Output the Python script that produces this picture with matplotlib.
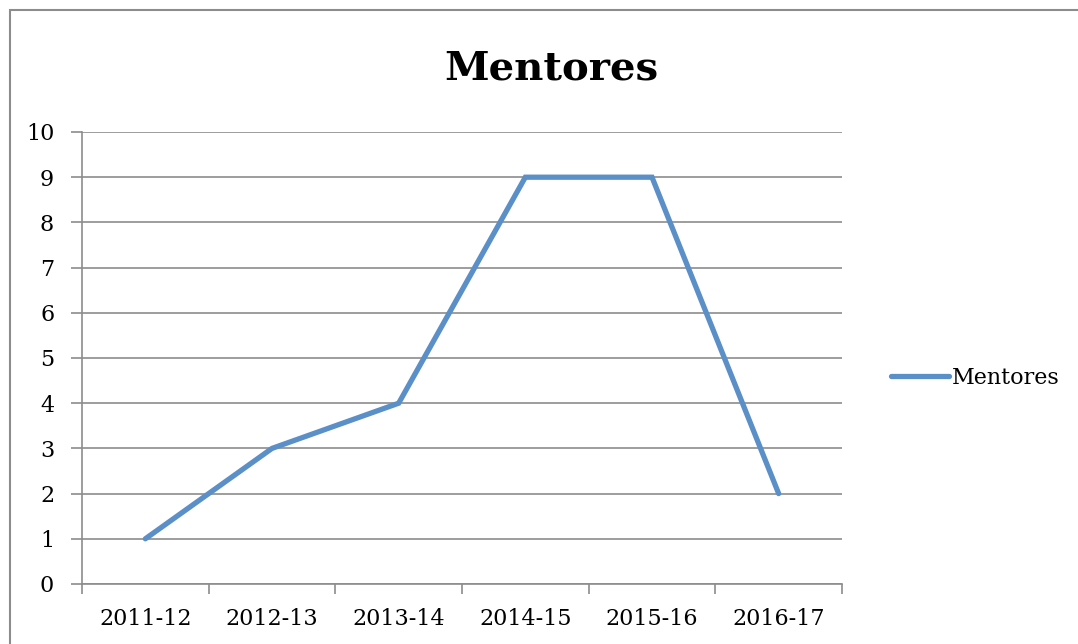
from matplotlib import pyplot as plt
from matplotlib.patches import Rectangle
import numpy as np

temporadas = ['2011-12', '2012-13', '2013-14', '2014-15', '2015-16', '2016-17']
mentores = [1, 3, 4, 9, 9, 2]

plt.rcParams['font.family'] = ['DejaVu Serif']

W, H = 1078, 644
fig = plt.figure(figsize=(W / 100, H / 100), dpi=100)

# marco exterior del gráfico
fig.patches.append(Rectangle((10 / W, -0.01), 1.02, 1 - 10 / H + 0.01,
                             transform=fig.transFigure, fill=False,
                             edgecolor='#8c8c8c', linewidth=1.5))

ax = fig.add_axes([82 / W, 1 - 584 / H, (842 - 82) / W, (584 - 132) / H])
x = np.arange(len(temporadas))
ax.plot(x, mentores, color='#5b8fc8', linewidth=3.8, solid_capstyle='round',
        solid_joinstyle='miter', label='Mentores', zorder=3)

ax.set_xlim(-0.5, len(temporadas) - 0.5)
ax.set_ylim(0, 10)
ax.set_yticks(range(0, 11))
ax.set_xticks(x)
ax.set_xticklabels(temporadas)
ax.set_xticks(np.arange(-0.5, len(temporadas)), minor=True)
ax.tick_params(axis='x', which='major', length=0, labelsize=16, pad=17)
ax.tick_params(axis='x', which='minor', length=7, color='#8c8c8c', width=1.2)
ax.tick_params(axis='y', length=8, color='#8c8c8c', width=1.2, labelsize=16, pad=12)

ax.grid(axis='y', color='#8c8c8c', linewidth=1.2)
for s in ['top', 'right']:
    ax.spines[s].set_visible(False)
for s in ['left', 'bottom']:
    ax.spines[s].set_color('#8c8c8c')
    ax.spines[s].set_linewidth(1.2)

fig.text(551 / W, 1 - 68 / H, 'Mentores', ha='center', va='center',
         fontsize=29, fontweight='bold')

ax.legend(loc='center left', bbox_to_anchor=(882 / W, 1 - 378 / H),
          bbox_transform=fig.transFigure, frameon=False, fontsize=16,
          handlelength=2.6, handletextpad=0.15, borderaxespad=0)

fig.savefig('out.png', dpi=100)
